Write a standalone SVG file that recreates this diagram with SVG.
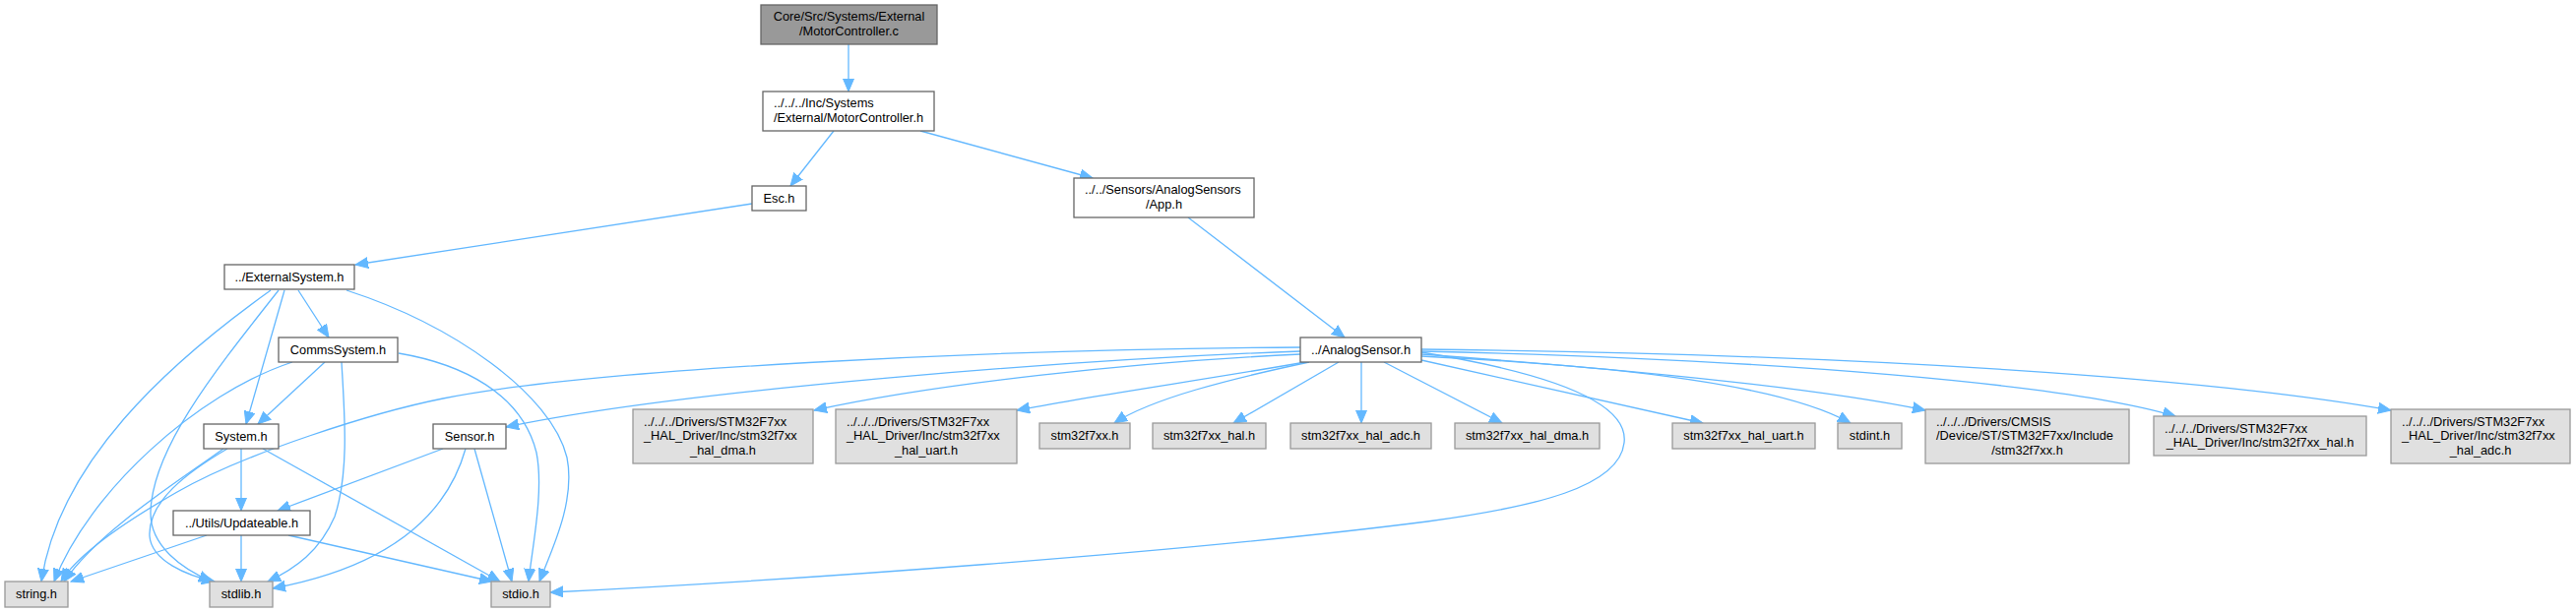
<svg xmlns="http://www.w3.org/2000/svg" width="2617" height="623" viewBox="0 0 2617 623">
<style>
text{font-family:"Liberation Sans",Arial,Helvetica,sans-serif;font-size:12.8px;fill:#000}
.c{text-anchor:middle}
.s{text-anchor:start}
.w{fill:#fff;stroke:#666;stroke-width:1.3}
.g{fill:#e0e0e0;stroke:#999;stroke-width:1.3}
.r{fill:#999;stroke:#666;stroke-width:1.3}
.e path{fill:none;stroke:#63b8ff;stroke-width:1.3;marker-end:url(#a)}
</style>
<defs>
<marker id="a" markerUnits="userSpaceOnUse" markerWidth="14" markerHeight="12" refX="13" refY="6" orient="auto" viewBox="0 0 14 12">
<path d="M0,0.5 L13,6 L0,11.5 Z" fill="#63b8ff" stroke="#63b8ff" stroke-width="1"/>
</marker>
</defs>
<rect width="2617" height="623" fill="#fff"/>
<g class="e" id="connectors">
<path d="M862,45 L862,93"/>
<path d="M847,133 L803,189"/>
<path d="M935,133 L1110,181"/>
<path d="M764,207 L361,269"/>
<path d="M1207,221 L1366,343"/>
<path d="M303,295 L334,343"/>
<path d="M289,295 L250,431"/>
<path d="M275,295 C170,370 60,470 42,591"/>
<path d="M283,295 C220,375 155,455 153,520 C152,555 185,578 215,591"/>
<path d="M352,295 C460,330 560,400 576,465 C585,510 560,560 548,591"/>
<path d="M330,368 L262,431"/>
<path d="M297,368 C200,400 90,500 55,591"/>
<path d="M347,368 C350,420 355,480 340,525 C325,560 300,578 272,591"/>
<path d="M405,359 C470,370 530,400 545,460 C553,500 540,560 537,591"/>
<path d="M245,456 L245,519"/>
<path d="M227,456 C180,490 100,540 65,591"/>
<path d="M231,456 C190,480 150,510 152,545 C154,570 190,585 218,591"/>
<path d="M267,456 L508,591"/>
<path d="M210,544 L72,591"/>
<path d="M245,544 L245,591"/>
<path d="M293,544 L500,591"/>
<path d="M450,456 L282,519"/>
<path d="M473,456 C455,520 400,575 277,598"/>
<path d="M482,456 L520,591"/>
<path d="M1321,357 C1100,365 700,395 514,434"/>
<path d="M1321,353 C1000,355 600,375 450,405 C380,419 250,460 180,500 C110,540 75,570 62,591"/>
<path d="M1444,358 C1580,380 1655,410 1650,450 C1645,495 1560,515 1450,530 C1200,562 800,590 559,602"/>
<path d="M1321,360 C1150,368 950,390 827,417"/>
<path d="M1326,368 C1230,385 1110,402 1033,417"/>
<path d="M1330,368 C1250,385 1170,405 1132,430"/>
<path d="M1360,368 L1253,430"/>
<path d="M1383,368 L1383,430"/>
<path d="M1406,368 L1526,430"/>
<path d="M1444,366 L1730,430"/>
<path d="M1444,362 C1600,370 1800,385 1880,430"/>
<path d="M1444,360 C1650,375 1850,395 1956,417"/>
<path d="M1444,357 C1800,365 2100,390 2210,423"/>
<path d="M1444,355 C1900,360 2250,385 2429,417"/>
</g>
<g id="n_mc_c"><rect class="r" x="773" y="5" width="179" height="40"/><text class="c" x="862.5" y="21">Core/Src/Systems/External</text><text class="c" x="862.5" y="36">/MotorController.c</text></g>
<g id="n_mc_h"><rect class="w" x="775" y="93" width="174" height="40"/><text class="s" x="786" y="109">../../../Inc/Systems</text><text class="c" x="862" y="124">/External/MotorController.h</text></g>
<g id="n_esc"><rect class="w" x="764" y="189" width="55" height="25"/><text class="c" x="791.5" y="205.5">Esc.h</text></g>
<g id="n_app"><rect class="w" x="1091" y="181" width="183" height="40"/><text class="s" x="1102" y="197">../../Sensors/AnalogSensors</text><text class="c" x="1182.5" y="212">/App.h</text></g>
<g id="n_ext"><rect class="w" x="228" y="269" width="132" height="25"/><text class="c" x="294" y="285.5">../ExternalSystem.h</text></g>
<g id="n_comms"><rect class="w" x="283" y="343" width="121" height="25"/><text class="c" x="343.5" y="359.5">CommsSystem.h</text></g>
<g id="n_system"><rect class="w" x="207" y="431" width="76" height="25"/><text class="c" x="245" y="447.5">System.h</text></g>
<g id="n_sensor"><rect class="w" x="440" y="431" width="74" height="25"/><text class="c" x="477" y="447.5">Sensor.h</text></g>
<g id="n_upd"><rect class="w" x="176" y="519" width="139" height="25"/><text class="c" x="245.5" y="535.5">../Utils/Updateable.h</text></g>
<g id="n_string"><rect class="g" x="5" y="591" width="64" height="26"/><text class="c" x="37" y="608">string.h</text></g>
<g id="n_stdlib"><rect class="g" x="213" y="591" width="64" height="26"/><text class="c" x="245" y="608">stdlib.h</text></g>
<g id="n_stdio"><rect class="g" x="499" y="591" width="60" height="26"/><text class="c" x="529" y="608">stdio.h</text></g>
<g id="n_analog"><rect class="w" x="1321" y="343" width="123" height="25"/><text class="c" x="1382.5" y="359.5">../AnalogSensor.h</text></g>
<g id="n_dma_l"><rect class="g" x="643" y="416" width="183" height="55"/><text class="s" x="654" y="432.5">../../../Drivers/STM32F7xx</text><text class="s" x="654" y="447">_HAL_Driver/Inc/stm32f7xx</text><text class="c" x="734.5" y="461.5">_hal_dma.h</text></g>
<g id="n_uart_l"><rect class="g" x="849" y="416" width="184" height="55"/><text class="s" x="860" y="432.5">../../../Drivers/STM32F7xx</text><text class="s" x="860" y="447">_HAL_Driver/Inc/stm32f7xx</text><text class="c" x="941" y="461.5">_hal_uart.h</text></g>
<g id="n_f7"><rect class="g" x="1056" y="430" width="92" height="26"/><text class="c" x="1102" y="447">stm32f7xx.h</text></g>
<g id="n_hal"><rect class="g" x="1171" y="430" width="115" height="26"/><text class="c" x="1228.5" y="447">stm32f7xx_hal.h</text></g>
<g id="n_adc"><rect class="g" x="1311" y="430" width="143" height="26"/><text class="c" x="1382.5" y="447">stm32f7xx_hal_adc.h</text></g>
<g id="n_dma"><rect class="g" x="1478" y="430" width="147" height="26"/><text class="c" x="1551.5" y="447">stm32f7xx_hal_dma.h</text></g>
<g id="n_uart"><rect class="g" x="1699" y="430" width="145" height="26"/><text class="c" x="1771.5" y="447">stm32f7xx_hal_uart.h</text></g>
<g id="n_stdint"><rect class="g" x="1867" y="430" width="65" height="26"/><text class="c" x="1899.5" y="447">stdint.h</text></g>
<g id="n_cmsis"><rect class="g" x="1956" y="416" width="207" height="55"/><text class="s" x="1967" y="432.5">../../../Drivers/CMSIS</text><text class="s" x="1967" y="447">/Device/ST/STM32F7xx/Include</text><text class="c" x="2059.5" y="461.5">/stm32f7xx.h</text></g>
<g id="n_hal_l"><rect class="g" x="2188" y="423" width="216" height="40"/><text class="s" x="2199" y="439.5">../../../Drivers/STM32F7xx</text><text class="c" x="2296" y="454">_HAL_Driver/Inc/stm32f7xx_hal.h</text></g>
<g id="n_adc_l"><rect class="g" x="2429" y="416" width="182" height="55"/><text class="s" x="2440" y="432.5">../../../Drivers/STM32F7xx</text><text class="s" x="2440" y="447">_HAL_Driver/Inc/stm32f7xx</text><text class="c" x="2520" y="461.5">_hal_adc.h</text></g>
</svg>
